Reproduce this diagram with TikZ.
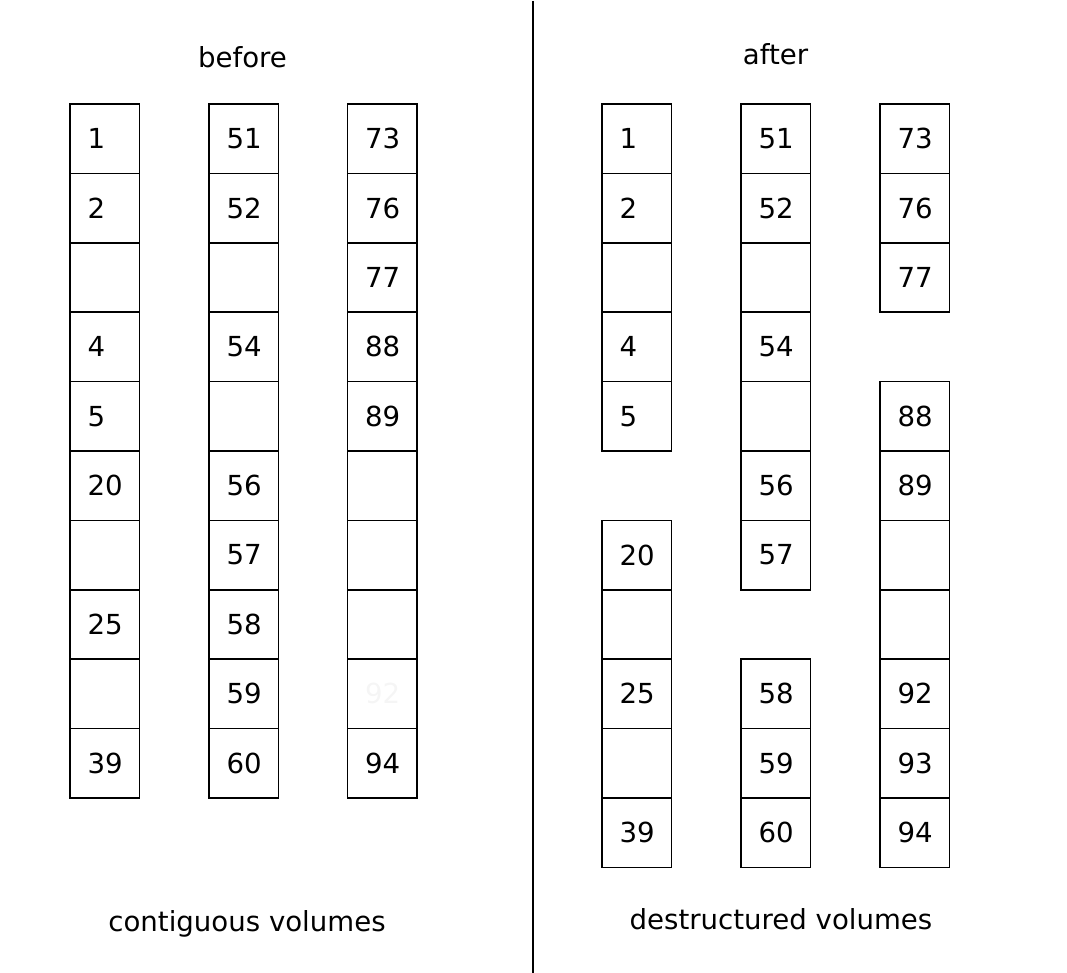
\documentclass[tikz,border=0pt]{standalone}
\usepackage{fontspec}
\newfontfamily\dvs{DejaVu Sans}
\begin{document}
\begin{tikzpicture}[x=1pt,y=-1pt,
  cell/.style={draw, line width=1.7pt, minimum width=69.4pt, minimum height=69.4pt,
    inner ysep=0pt, inner xsep=17.5pt, text width=34.4pt, align=left,
    font=\dvs\fontsize{27.6}{32}\selectfont},
  caption/.style={anchor=base, inner sep=0pt, font=\dvs\fontsize{27.6}{32}\selectfont}]
\useasboundingbox (0,0) rectangle (1067,973);
\def\top{104}\def\pitch{69.4}
% before
\foreach \r/\lab in {0/1,1/2,2/,3/4,4/5,5/20,6/,7/25,8/,9/39}
  \node[cell] (La\r) at (70+34.7,\top+\pitch*\r+34.7) {\lab};
\foreach \r/\lab in {0/51,1/52,2/,3/54,4/,5/56,6/57,7/58,8/59,9/60}
  \node[cell] (Lb\r) at (209+34.7,\top+\pitch*\r+34.7) {\lab};
\foreach \r/\lab in {0/73,1/76,2/77,3/88,4/89,5/,6/,7/,8/{\textcolor{black!4}{92}},9/94}
  \node[cell] (Lc\r) at (347.5+34.7,\top+\pitch*\r+34.7) {\lab};
% after
\foreach \r/\lab in {0/1,1/2,2/,3/4,4/5,6/20,7/,8/25,9/,10/39}
  \node[cell] (Ra\r) at (602+34.7,\top+\pitch*\r+34.7) {\lab};
\foreach \r/\lab in {0/51,1/52,2/,3/54,4/,5/56,6/57,8/58,9/59,10/60}
  \node[cell] (Rb\r) at (741+34.7,\top+\pitch*\r+34.7) {\lab};
\foreach \r/\lab in {0/73,1/76,2/77,4/88,5/89,6/,7/,8/92,9/93,10/94}
  \node[cell] (Rc\r) at (880+34.7,\top+\pitch*\r+34.7) {\lab};
% captions
\node[caption] (before) at (242.5,68) {before};
\node[caption] (after) at (775.5,65) {after};
\node[caption] (contig) at (247,931) {contiguous volumes};
\node[caption] (destr) at (781,929) {destructured volumes};
% divider
\coordinate (divtop) at (533,1);
\coordinate (divbot) at (533,973);
\draw[line width=1.8pt] (divtop) -- (divbot);
\end{tikzpicture}
\end{document}
